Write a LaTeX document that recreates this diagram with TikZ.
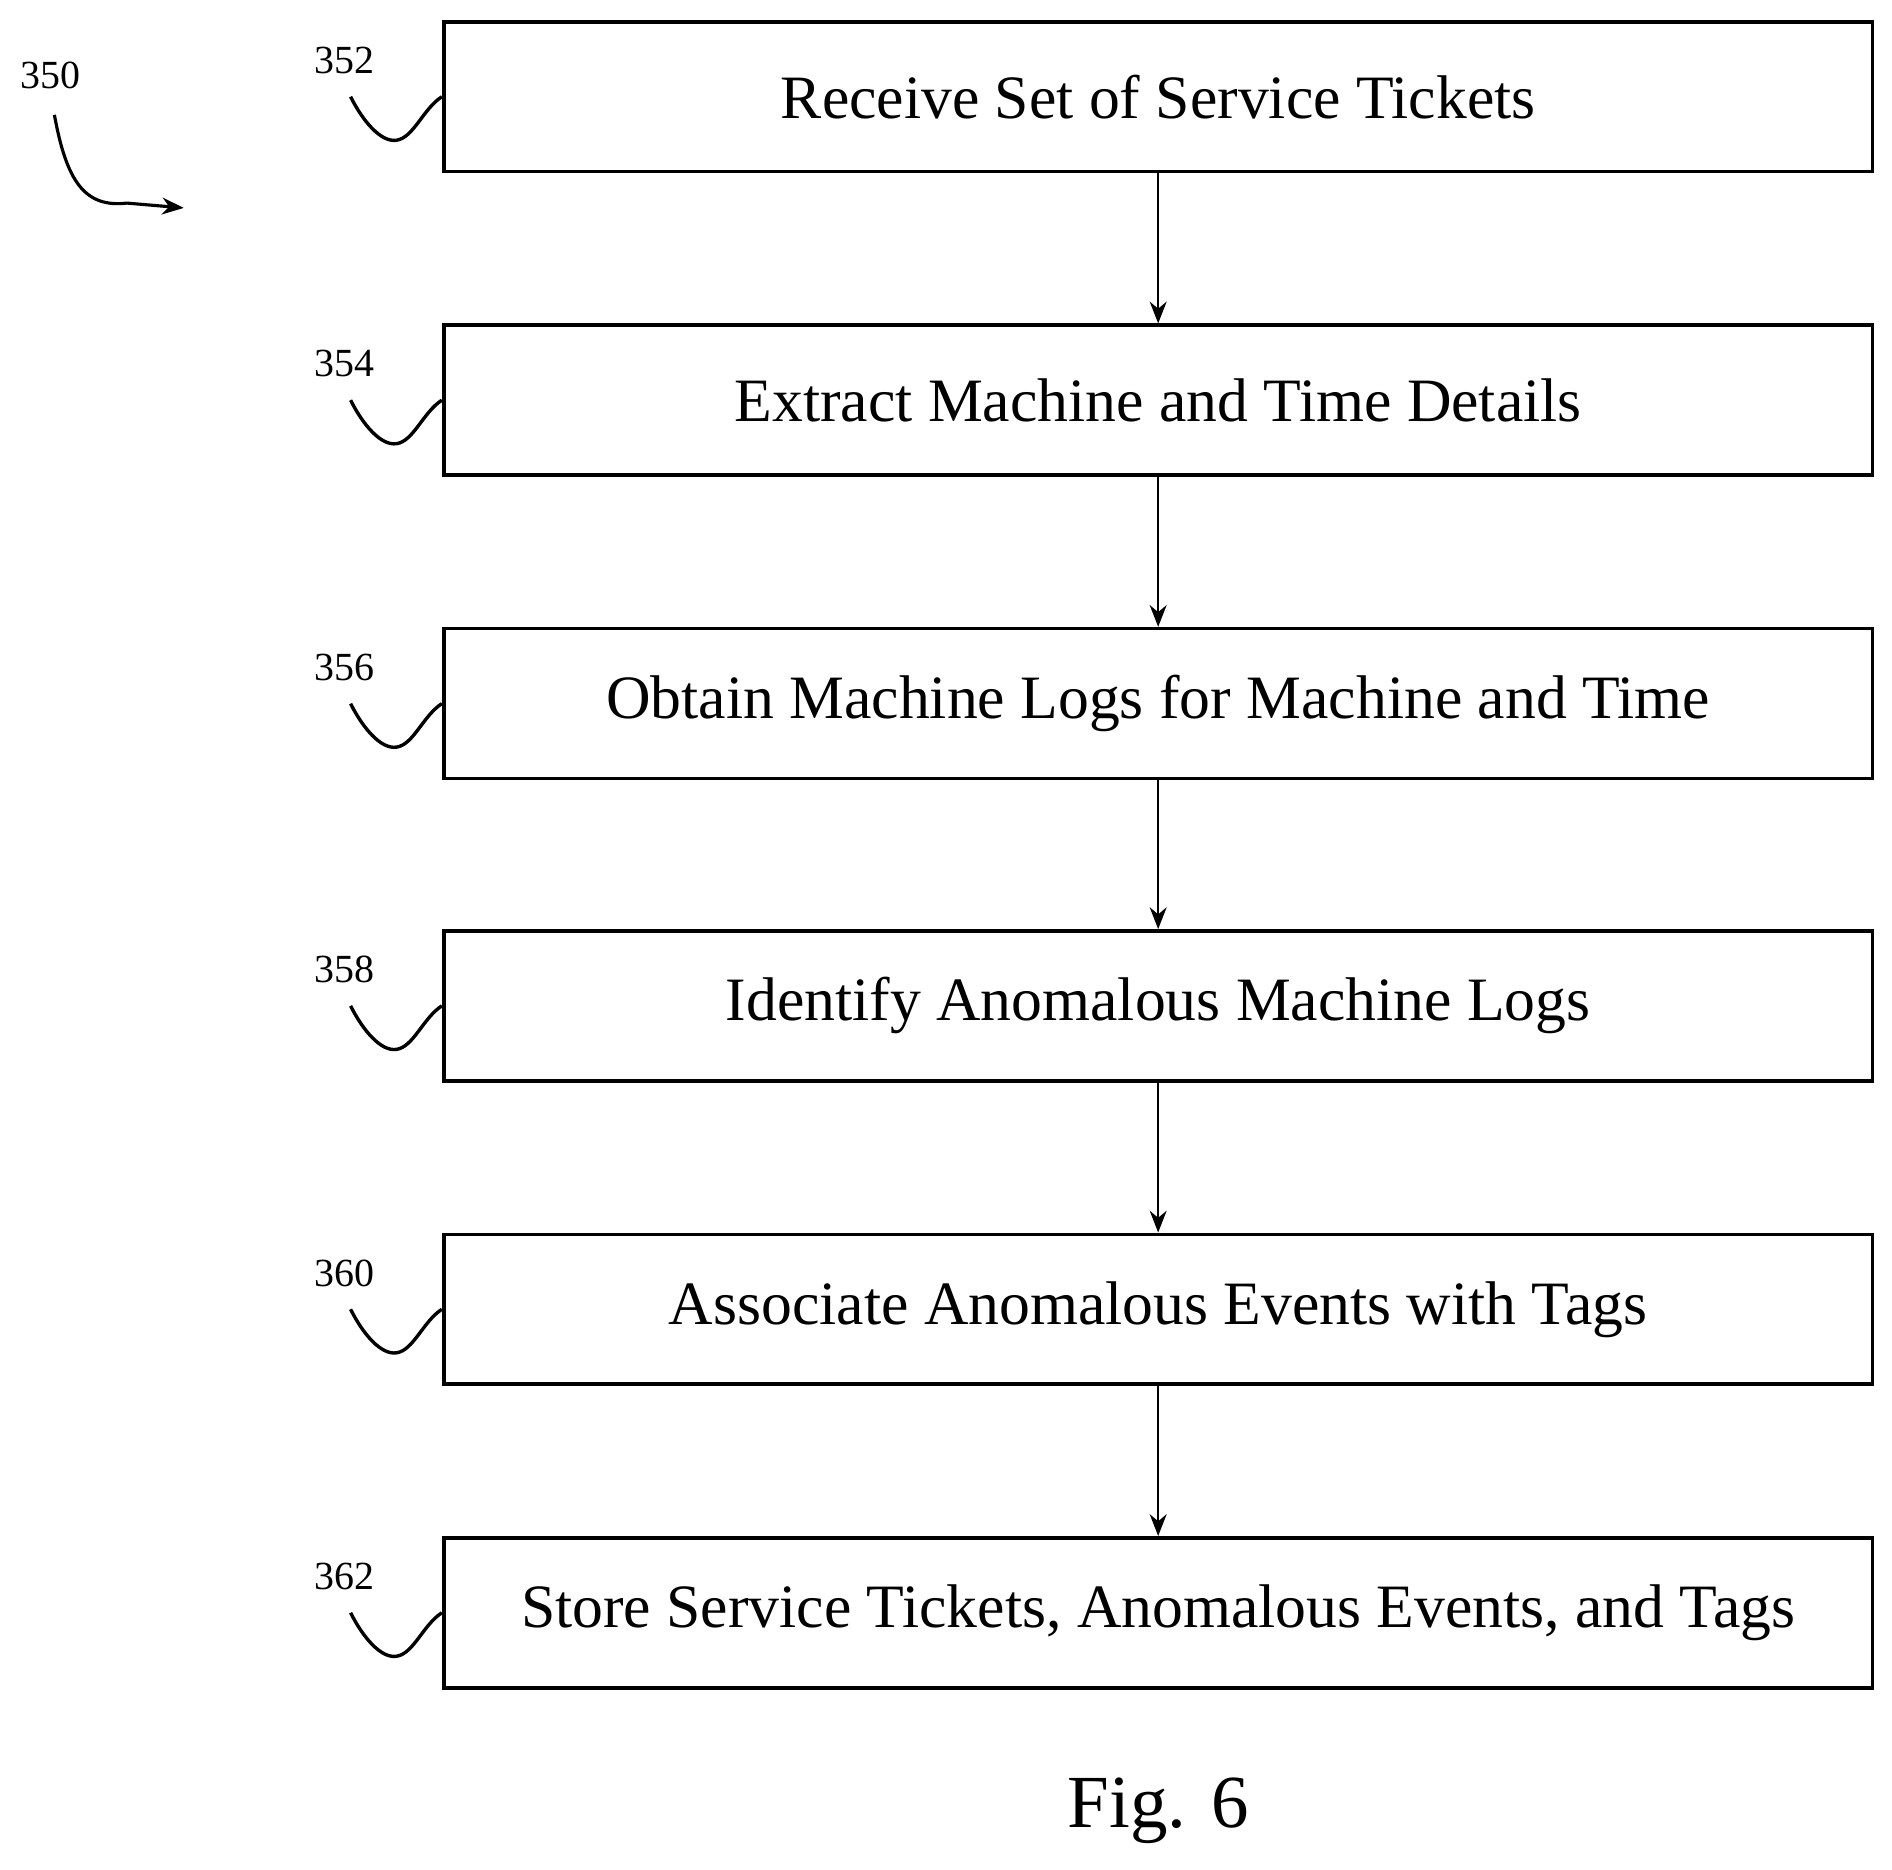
\documentclass[tikz,border=0pt]{standalone}
\usepackage{fontspec}
\setmainfont{Liberation Serif}
\usetikzlibrary{arrows.meta}
\begin{document}
\begin{tikzpicture}[x=0.5pt,y=-0.5pt,
  box/.style={draw,line width=1.5pt,minimum width=591pt,minimum height=62pt,inner sep=0pt,font=\fontsize{25.5}{28}\selectfont},
  lbl/.style={font=\fontsize{16.5}{18}\selectfont},
  arr/.style={-{Stealth[length=9pt,width=7pt]},line width=0.9pt},
  sq/.style={line width=1.4pt}]
\useasboundingbox (0,0) rectangle (1565,1546);
\foreach \n/\y/\t/\l in {a/80/Receive Set of Service Tickets/352,
  b/331/Extract Machine and Time Details/354,
  c/582/Obtain Machine Logs for Machine and Time/356,
  d/832/Identify Anomalous Machine Logs/358,
  e/1083/Associate Anomalous Events with Tags/360,
  f/1334/{Store Service Tickets, Anomalous Events, and Tags}/362}{
  \node[box] (\n) at (958,\y) {\t};
  \node[lbl] (l\n) at (285,\y-30) {\l};
  \coordinate (s\n) at (290,\y);
  \draw[sq] (s\n) .. controls (300,\y+20) and (315,\y+38) .. (328,\y+36)
     .. controls (342,\y+34) and (350,\y+10) .. (\n.west);
}
\foreach \p/\q in {a/b,b/c,c/d,d/e,e/f} \draw[arr] (\p) -- (\q);
\node[lbl] (n350) at (42,62) {350};
\coordinate (t350) at (152,172);
\draw[arr,line width=1.3pt] (45,95) .. controls (55,150) and (70,172) .. (105,168) -- (t350);
\node[font=\fontsize{31}{34}\selectfont] (fig) at (958,1498) {Fig. 6};
\end{tikzpicture}
\end{document}
